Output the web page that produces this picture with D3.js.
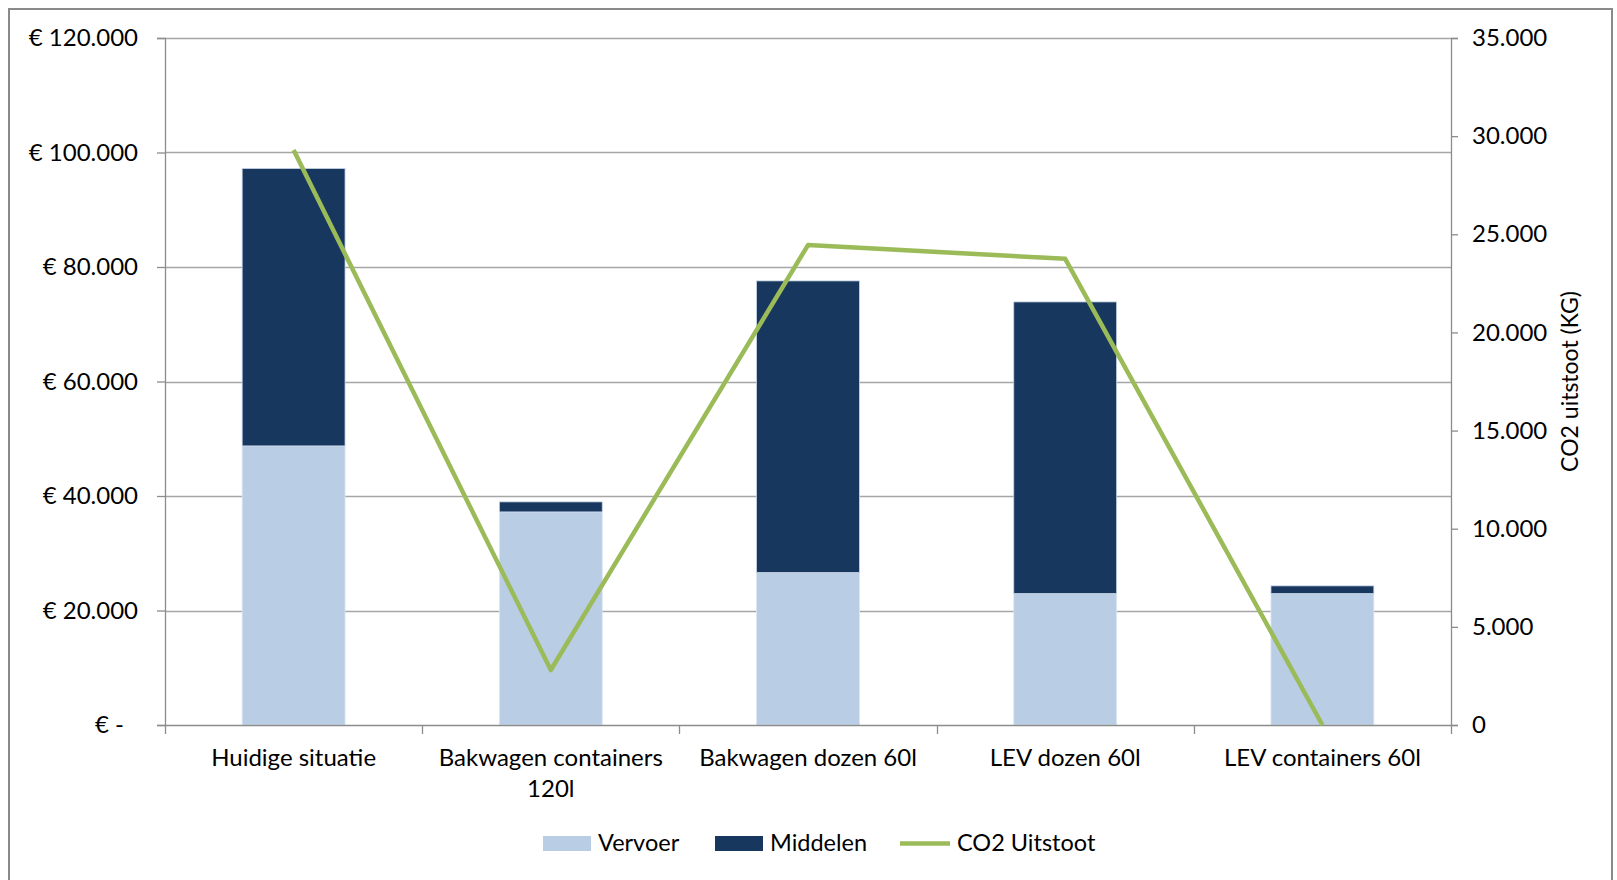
<!DOCTYPE html>
<html>
<head>
<meta charset="utf-8">
<script src="https://cdn.jsdelivr.net/npm/d3@7"></script>
<style>
  html, body { margin: 0; padding: 0; background: #fff; }
  svg { display: block; font-family: Lato, "Open Sans", sans-serif; }
</style>
</head>
<body>
<svg id="chart" width="1617" height="880"></svg>
<script>
// ---- data ----
const categories = ["Huidige situatie", "Bakwagen containers 120l", "Bakwagen dozen 60l", "LEV dozen 60l", "LEV containers 60l"];
const vervoer  = [48750, 37220, 26640, 22970, 22970];
const middelen = [48450, 1750, 50930, 50930, 1330];
const co2      = [29300, 2800, 24450, 23750, 0];
const seriesNames = ["Vervoer", "Middelen", "CO2 Uitstoot"];
const leftTicks  = [0, 20000, 40000, 60000, 80000, 100000, 120000];
const rightTicks = [0, 5000, 10000, 15000, 20000, 25000, 30000, 35000];
const rightAxisTitle = "CO2 uitstoot (KG)";

// ---- layout ----
const svg = d3.select("#chart");
const plot = { left: 165, right: 1451, top: 38, bottom: 725 };
const colors = { vervoer: "#B9CDE5", middelen: "#17375E", co2: "#9BBB59" };
const fontSize = 24;

// outer frame
svg.append("rect").attr("x", 9).attr("y", 9).attr("width", 1603).attr("height", 890)
  .attr("fill", "none").attr("stroke", "#8a8a8a").attr("stroke-width", 2);

const x = d3.scaleBand().domain(categories).range([plot.left, plot.right]).paddingInner(0.6).paddingOuter(0.3);
const xOuter = d3.scaleBand().domain(categories).range([plot.left, plot.right]);
const yL = d3.scaleLinear().domain([0, 120000]).range([plot.bottom, plot.top]);
const yR = d3.scaleLinear().domain([0, 35000]).range([plot.bottom, plot.top]);

const fmtNL = v => d3.format(",")(v).replace(/,/g, ".");

// gridlines
svg.append("g").selectAll("line").data(leftTicks.filter(t => t > 0)).join("line")
  .attr("x1", plot.left).attr("x2", plot.right)
  .attr("y1", d => Math.round(yL(d)) + 0.5).attr("y2", d => Math.round(yL(d)) + 0.5)
  .attr("stroke", "#a6a6a6").attr("stroke-width", 1.3);

// bars
const stackData = categories.map((c, i) => ({ cat: c, v: vervoer[i], m: middelen[i] }));
const gBars = svg.append("g");
gBars.selectAll("rect.v").data(stackData).join("rect").attr("class", "v")
  .attr("x", d => x(d.cat)).attr("width", x.bandwidth())
  .attr("y", d => yL(d.v)).attr("height", d => yL(0) - yL(d.v))
  .attr("fill", colors.vervoer).attr("stroke", "#dce6f2").attr("stroke-width", 0.8);
gBars.selectAll("rect.m").data(stackData).join("rect").attr("class", "m")
  .attr("x", d => x(d.cat)).attr("width", x.bandwidth())
  .attr("y", d => yL(d.v + d.m)).attr("height", d => yL(d.v) - yL(d.v + d.m))
  .attr("fill", colors.middelen).attr("stroke", "#c8d4e6").attr("stroke-width", 0.8);

// axes
const axisColor = "#8c8c8c";
const gL = svg.append("g").attr("transform", `translate(${plot.left},0)`)
  .call(d3.axisLeft(yL).tickValues(leftTicks).tickSize(8).tickPadding(19)
    .tickFormat(d => d === 0 ? "€ -" : "€ " + fmtNL(d)));
gL.selectAll("text").attr("dx", d => d === 0 ? -14 : 0);

const gR = svg.append("g").attr("transform", `translate(${plot.right},0)`)
  .call(d3.axisRight(yR).tickValues(rightTicks).tickSize(7).tickPadding(14)
    .tickFormat(d => fmtNL(d)));

const gX = svg.append("g").attr("transform", `translate(0,${plot.bottom})`)
  .call(d3.axisBottom(xOuter).tickSize(0).tickPadding(24));

[gL, gR, gX].forEach(g => {
  g.selectAll("path.domain").attr("stroke", axisColor).attr("stroke-width", 1.3);
  g.selectAll(".tick line").attr("stroke", axisColor).attr("stroke-width", 1.3);
  g.selectAll("text").attr("fill", "#000").style("font-size", fontSize + "px").style("font-family", "Lato, sans-serif");
});
gX.select("path.domain").attr("d", `M${plot.left},0.5H${plot.right}`);

// category boundary ticks
const bounds = categories.map(c => xOuter(c)).concat([plot.right]);
svg.append("g").selectAll("line").data(bounds).join("line")
  .attr("x1", d => Math.round(d) + 0.5).attr("x2", d => Math.round(d) + 0.5)
  .attr("y1", plot.bottom).attr("y2", plot.bottom + 9)
  .attr("stroke", axisColor).attr("stroke-width", 1.3);

// wrap category labels
gX.selectAll(".tick text").each(function () {
  const t = d3.select(this);
  const words = t.text().split(/\s+/);
  const maxW = xOuter.bandwidth() - 8;
  t.text(null);
  let line = [];
  let tspan = t.append("tspan").attr("x", 0).attr("dy", "0.71em");
  words.forEach(w => {
    line.push(w);
    tspan.text(line.join(" "));
    if (tspan.node().getComputedTextLength() > maxW && line.length > 1) {
      line.pop();
      tspan.text(line.join(" "));
      line = [w];
      tspan = t.append("tspan").attr("x", 0).attr("dy", "31px").text(w);
    }
  });
});

// CO2 line
const line = d3.line().x((d, i) => xOuter(categories[i]) + xOuter.bandwidth() / 2).y(d => yR(d));
svg.append("path").datum(co2).attr("d", line)
  .attr("fill", "none").attr("stroke", colors.co2).attr("stroke-width", 4.5)
  .attr("stroke-linejoin", "round");

// right axis title
svg.append("text")
  .attr("transform", `translate(1578,${(plot.top + plot.bottom) / 2}) rotate(-90)`)
  .attr("text-anchor", "middle").attr("fill", "#000")
  .style("font-size", "23px").text(rightAxisTitle);

// legend
const legendY = 843;
const leg = svg.append("g").style("font-size", "23.5px");
const items = [
  { name: seriesNames[0], type: "rect", color: colors.vervoer, x: 543 },
  { name: seriesNames[1], type: "rect", color: colors.middelen, x: 715 },
  { name: seriesNames[2], type: "line", color: colors.co2, x: 900 }
];
items.forEach(it => {
  if (it.type === "rect") {
    leg.append("rect").attr("x", it.x).attr("y", legendY - 7).attr("width", 48).attr("height", 15).attr("fill", it.color);
  } else {
    leg.append("line").attr("x1", it.x).attr("x2", it.x + 50).attr("y1", legendY + 0.5).attr("y2", legendY + 0.5)
      .attr("stroke", it.color).attr("stroke-width", 4.5);
  }
  leg.append("text").attr("x", it.x + (it.type === "rect" ? 55 : 57)).attr("y", legendY).attr("dy", "0.35em")
    .attr("fill", "#000").text(it.name);
});
</script>
</body>
</html>
